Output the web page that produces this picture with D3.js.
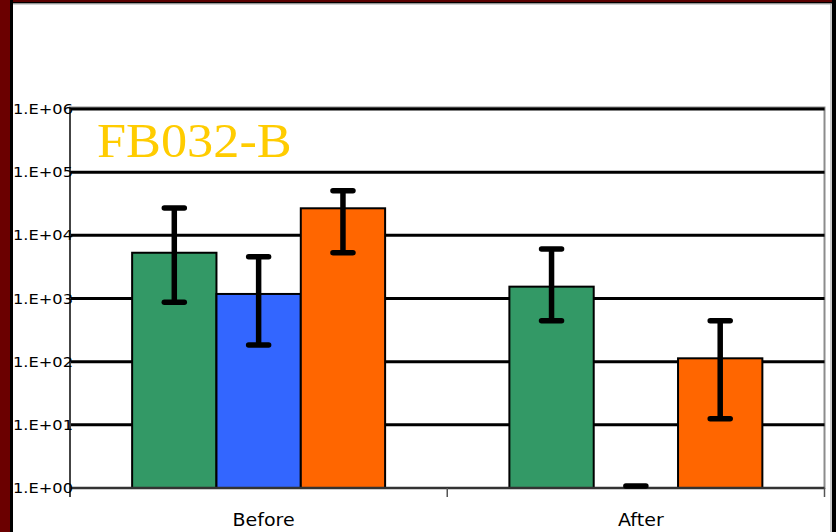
<!DOCTYPE html>
<html>
<head>
<meta charset="utf-8">
<script src="https://cdn.jsdelivr.net/npm/d3@7"></script>
<style>
  html, body { margin: 0; padding: 0; background: #fff; }
  svg { display: block; }
</style>
</head>
<body>
<svg id="chart" width="836" height="532"></svg>
<script>
// Sample groups and series
const categories = ["Before", "After"];
const seriesNames = ["Series 1", "Series 2", "Series 3"];
const seriesColors = ["#339966", "#3366FF", "#FF6600"];

// Mean counts per series (one entry per category)
const series1Values = [5300, 1540];
const series2Values = [1180, 1];
const series3Values = [26800, 113];

// Error bar ranges per series [low, high] (one entry per category)
const series1Errors = [[874, 27100], [445, 6070]];
const series2Errors = [[184, 4590], [1, 1]];
const series3Errors = [[5300, 50900], [12.5, 445]];

// Log axis ticks
const tickValues = [1, 10, 100, 1000, 10000, 100000, 1000000];
const tickLabels = ["1.E+00", "1.E+01", "1.E+02", "1.E+03", "1.E+04", "1.E+05", "1.E+06"];

const titleText = "FB032-B";

const seriesValues = [series1Values, series2Values, series3Values];
const seriesErrors = [series1Errors, series2Errors, series3Errors];

const W = 836, H = 532;
const plot = { left: 70, right: 824.5, top: 109, bottom: 488 };
const textStretch = 1.12;

const svg = d3.select("#chart");

// Frame around the slide
svg.append("rect").attr("x", 0).attr("y", 0).attr("width", W).attr("height", H).attr("fill", "#fff");
svg.append("rect").attr("x", 0).attr("y", 0).attr("width", W).attr("height", 3).attr("fill", "#5a0000");
svg.append("rect").attr("x", 0).attr("y", 2).attr("width", W).attr("height", 1.5).attr("fill", "#000");
svg.append("rect").attr("x", 0).attr("y", 0).attr("width", 10).attr("height", H).attr("fill", "#6b0000");
svg.append("rect").attr("x", 10).attr("y", 0).attr("width", 3).attr("height", H).attr("fill", "#000");
svg.append("rect").attr("x", 832).attr("y", 0).attr("width", 4).attr("height", H).attr("fill", "#000");
svg.append("line").attr("x1", 13).attr("x2", 831).attr("y1", 4).attr("y2", 4)
  .attr("stroke", "#aaa").attr("stroke-width", 1);
svg.append("line").attr("x1", 831).attr("x2", 831).attr("y1", 4).attr("y2", H)
  .attr("stroke", "#999").attr("stroke-width", 1);

// Scales
const x0 = d3.scaleBand().domain(categories).range([plot.left, plot.right])
  .paddingInner(0.3294).paddingOuter(0.1647);
const x1 = d3.scaleBand().domain(seriesNames).range([0, x0.bandwidth()]).padding(0);
const y = d3.scaleLog().domain([1, 1e6]).range([plot.bottom, plot.top]);

// Plot area border (grey)
svg.append("rect")
  .attr("x", plot.left).attr("y", plot.top - 1.5)
  .attr("width", plot.right - plot.left).attr("height", plot.bottom - plot.top + 1.5)
  .attr("fill", "none").attr("stroke", "#8c8c8c").attr("stroke-width", 2);

// Gridlines
svg.append("g").selectAll("line").data(tickValues.slice(1)).join("line")
  .attr("x1", plot.left).attr("x2", plot.right)
  .attr("y1", d => y(d)).attr("y2", d => y(d))
  .attr("stroke", "#000").attr("stroke-width", 3);

// Bars
const rows = [];
categories.forEach((c, ci) => {
  seriesNames.forEach((s, si) => {
    rows.push({
      cat: c, series: s, color: seriesColors[si],
      value: seriesValues[si][ci],
      lo: seriesErrors[si][ci][0], hi: seriesErrors[si][ci][1]
    });
  });
});

const groups = svg.append("g");
groups.selectAll("rect").data(rows.filter(d => d.value > 1)).join("rect")
  .attr("x", d => x0(d.cat) + x1(d.series))
  .attr("y", d => y(d.value))
  .attr("width", x1.bandwidth())
  .attr("height", d => y(1) - y(d.value))
  .attr("fill", d => d.color)
  .attr("stroke", "#000").attr("stroke-width", 2);

// X axis (bottom) with category ticks
const xAxisG = svg.append("g");
xAxisG.append("line")
  .attr("x1", plot.left).attr("x2", plot.right)
  .attr("y1", plot.bottom).attr("y2", plot.bottom)
  .attr("stroke", "#333").attr("stroke-width", 2.5);
const tickXs = [plot.left].concat(categories.map(c => x0(c) - x0.step() * x0.paddingOuter() + x0.step()));
xAxisG.selectAll("line.tick").data(tickXs).join("line").attr("class", "tick")
  .attr("x1", d => d).attr("x2", d => d)
  .attr("y1", plot.bottom).attr("y2", plot.bottom + 9)
  .attr("stroke", "#555").attr("stroke-width", 1.5);

// Y axis line
svg.append("line")
  .attr("x1", plot.left).attr("x2", plot.left)
  .attr("y1", plot.top - 2).attr("y2", plot.bottom + 9)
  .attr("stroke", "#444").attr("stroke-width", 2);

// Error bars
const eb = svg.append("g").attr("stroke", "#000").attr("stroke-width", 5.5);
rows.forEach(d => {
  const cx = x0(d.cat) + x1(d.series) + x1.bandwidth() / 2;
  const g = eb.append("g");
  if (d.hi > d.lo) {
    g.append("line").attr("x1", cx).attr("x2", cx)
      .attr("y1", y(d.lo)).attr("y2", y(d.hi));
  }
  const caps = d.hi > d.lo ? [d.lo, d.hi] : [d.lo];
  caps.forEach(v => {
    g.append("line")
      .attr("x1", cx - 10).attr("x2", cx + 10)
      .attr("y1", y(v) - (d.hi > d.lo ? 0 : 2)).attr("y2", y(v) - (d.hi > d.lo ? 0 : 2))
      .attr("stroke-linecap", "round");
  });
});

// Y tick labels
svg.append("g").selectAll("text").data(tickValues).join("text")
  .attr("transform", d => `translate(13,${y(d) + 5}) scale(${textStretch},1)`)
  .attr("font-family", "DejaVu Sans, Verdana, sans-serif")
  .attr("font-size", 14.5)
  .attr("fill", "#000")
  .text((d, i) => tickLabels[i]);

// Category labels
svg.append("g").selectAll("text").data(categories).join("text")
  .attr("transform", d => `translate(${x0(d) + x0.bandwidth() / 2 + 5},526) scale(${textStretch},1)`)
  .attr("text-anchor", "middle")
  .attr("font-family", "DejaVu Sans, Verdana, sans-serif")
  .attr("font-size", 17)
  .attr("fill", "#000")
  .text(d => d);

// Title inside plot area
svg.append("text")
  .attr("transform", `translate(97,157) scale(1.09,1)`)
  .attr("font-family", "Liberation Serif, Times New Roman, serif")
  .attr("font-size", 48)
  .attr("fill", "#FFCC00")
  .text(titleText);
</script>
</body>
</html>
